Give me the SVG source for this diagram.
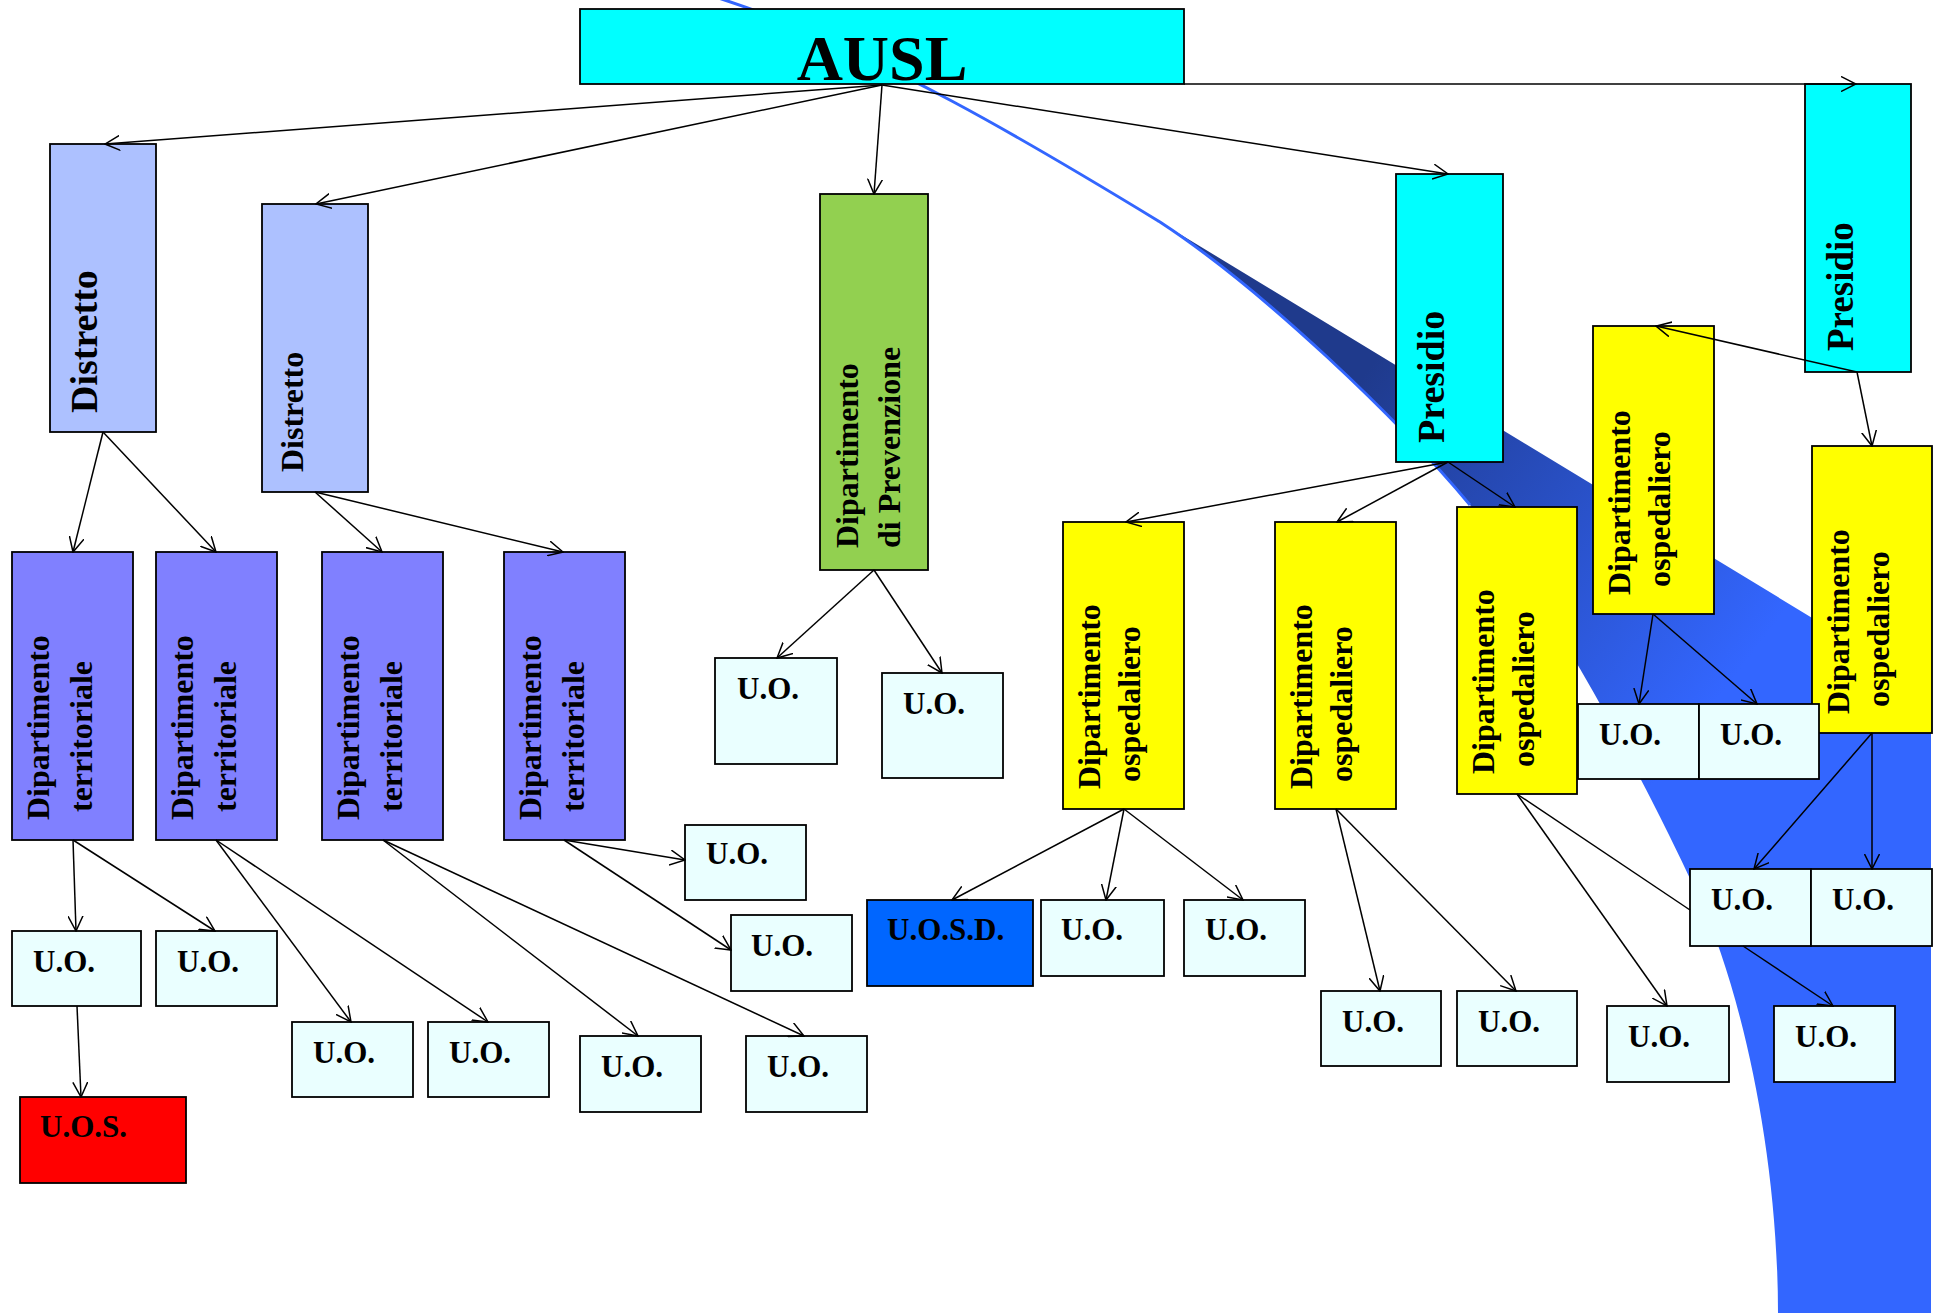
<svg xmlns="http://www.w3.org/2000/svg" width="1936" height="1313" viewBox="0 0 1936 1313">
<defs>
<style>
.b{stroke:#000;stroke-width:1.8}
.cy{fill:#00FFFF}.ds{fill:#ADC1FF}.dt{fill:#8080FF}.pv{fill:#92D050}.yo{fill:#FFFF00}.uo{fill:#EAFFFF}.rd{fill:#FF0000}.bl{fill:#0066FF}
text{font-family:"Liberation Serif","Times New Roman",serif;font-weight:bold;fill:#000}
.t32{font-size:32px}.u{font-size:31px}
.c line,.c path{stroke:#000;stroke-width:1.5;fill:none}
.a{marker-end:url(#arr)}
</style>
<marker id="arr" viewBox="0 0 16 16" refX="15" refY="8" markerWidth="16" markerHeight="16" orient="auto" markerUnits="userSpaceOnUse">
<path d="M0,0.5 L15,8 L0,15.5" fill="none" stroke="#000" stroke-width="1.5"/>
</marker>
<linearGradient id="sw" gradientUnits="userSpaceOnUse" x1="1360" y1="380" x2="1740" y2="670">
<stop offset="0" stop-color="#1F3A8C"/>
<stop offset="1" stop-color="#3366FF"/>
</linearGradient>
</defs>
<rect width="1936" height="1313" fill="#fff"/>
<g id="swoosh">
<path d="M1160,222 L1931,690 L1931,1313 L1778,1313 C1778,1150 1740,988 1700,900 C1650,790 1550,601 1470,505 C1400,421 1264,290 1160,222 Z" fill="url(#sw)"/>
<path d="M712,-4 C870,45 1050,155 1160,222 C1264,290 1400,421 1470,505" fill="none" stroke="#3366FF" stroke-width="3"/>
</g>
<g id="ausl"><rect class="b cy" x="580" y="9" width="604" height="75"/><text x="882" y="80" text-anchor="middle" font-size="64">AUSL</text></g>
<g id="distretto1"><rect class="b ds" x="50" y="144" width="106" height="288"/><text transform="translate(97,413) rotate(-90)" font-size="38">Distretto</text></g>
<g id="distretto2"><rect class="b ds" x="262" y="204" width="106" height="288"/><text transform="translate(303,472) rotate(-90)" font-size="32">Distretto</text></g>
<g id="prevenzione"><rect class="b pv" x="820" y="194" width="108" height="376"/><text class="t32" transform="translate(858,548) rotate(-90)">Dipartimento</text><text class="t32" transform="translate(900,548) rotate(-90)">di Prevenzione</text></g>
<g id="presidio1"><rect class="b cy" x="1396" y="174" width="107" height="288"/><text transform="translate(1444,443) rotate(-90)" font-size="38">Presidio</text></g>
<g id="presidio2"><rect class="b cy" x="1805" y="84" width="106" height="288"/><text transform="translate(1853,351) rotate(-90)" font-size="37">Presidio</text></g>
<g id="dterr1"><rect class="b dt" x="12" y="552" width="121" height="288"/><text class="t32" transform="translate(49,820) rotate(-90)">Dipartimento</text><text class="t32" transform="translate(92,812) rotate(-90)">territoriale</text></g>
<g id="dterr2"><rect class="b dt" x="156" y="552" width="121" height="288"/><text class="t32" transform="translate(193,820) rotate(-90)">Dipartimento</text><text class="t32" transform="translate(236,812) rotate(-90)">territoriale</text></g>
<g id="dterr3"><rect class="b dt" x="322" y="552" width="121" height="288"/><text class="t32" transform="translate(359,820) rotate(-90)">Dipartimento</text><text class="t32" transform="translate(402,812) rotate(-90)">territoriale</text></g>
<g id="dterr4"><rect class="b dt" x="504" y="552" width="121" height="288"/><text class="t32" transform="translate(541,820) rotate(-90)">Dipartimento</text><text class="t32" transform="translate(584,812) rotate(-90)">territoriale</text></g>
<g id="dosp1"><rect class="b yo" x="1063" y="522" width="121" height="287"/><text class="t32" transform="translate(1100,789) rotate(-90)">Dipartimento</text><text class="t32" transform="translate(1140,782) rotate(-90)">ospedaliero</text></g>
<g id="dosp2"><rect class="b yo" x="1275" y="522" width="121" height="287"/><text class="t32" transform="translate(1312,789) rotate(-90)">Dipartimento</text><text class="t32" transform="translate(1352,782) rotate(-90)">ospedaliero</text></g>
<g id="dosp3"><rect class="b yo" x="1457" y="507" width="120" height="287"/><text class="t32" transform="translate(1494,774) rotate(-90)">Dipartimento</text><text class="t32" transform="translate(1534,767) rotate(-90)">ospedaliero</text></g>
<g id="dosp4"><rect class="b yo" x="1593" y="326" width="121" height="288"/><text class="t32" transform="translate(1630,595) rotate(-90)">Dipartimento</text><text class="t32" transform="translate(1670,587) rotate(-90)">ospedaliero</text></g>
<g id="dosp5"><rect class="b yo" x="1812" y="446" width="120" height="287"/><text class="t32" transform="translate(1849,714) rotate(-90)">Dipartimento</text><text class="t32" transform="translate(1889,707) rotate(-90)">ospedaliero</text></g>
<g id="uo1"><rect class="b uo" x="12" y="931" width="129" height="75"/><text class="u" x="33" y="972">U.O.</text></g>
<g id="uo2"><rect class="b uo" x="156" y="931" width="121" height="75"/><text class="u" x="177" y="972">U.O.</text></g>
<g id="uos"><rect class="b rd" x="20" y="1097" width="166" height="86"/><text class="u" x="40" y="1137">U.O.S.</text></g>
<g id="uo3"><rect class="b uo" x="292" y="1022" width="121" height="75"/><text class="u" x="313" y="1063">U.O.</text></g>
<g id="uo4"><rect class="b uo" x="428" y="1022" width="121" height="75"/><text class="u" x="449" y="1063">U.O.</text></g>
<g id="uo5"><rect class="b uo" x="580" y="1036" width="121" height="76"/><text class="u" x="601" y="1077">U.O.</text></g>
<g id="uo6"><rect class="b uo" x="746" y="1036" width="121" height="76"/><text class="u" x="767" y="1077">U.O.</text></g>
<g id="uo7"><rect class="b uo" x="685" y="825" width="121" height="75"/><text class="u" x="706" y="864">U.O.</text></g>
<g id="uo8"><rect class="b uo" x="731" y="915" width="121" height="76"/><text class="u" x="751" y="956">U.O.</text></g>
<g id="uo9"><rect class="b uo" x="715" y="658" width="122" height="106"/><text class="u" x="737" y="699">U.O.</text></g>
<g id="uo10"><rect class="b uo" x="882" y="673" width="121" height="105"/><text class="u" x="903" y="714">U.O.</text></g>
<g id="uosd"><rect class="b bl" x="867" y="900" width="166" height="86"/><text class="u" x="887" y="940">U.O.S.D.</text></g>
<g id="uo11"><rect class="b uo" x="1041" y="900" width="123" height="76"/><text class="u" x="1061" y="940">U.O.</text></g>
<g id="uo12"><rect class="b uo" x="1184" y="900" width="121" height="76"/><text class="u" x="1205" y="940">U.O.</text></g>
<g id="uo13"><rect class="b uo" x="1321" y="991" width="120" height="75"/><text class="u" x="1342" y="1032">U.O.</text></g>
<g id="uo14"><rect class="b uo" x="1457" y="991" width="120" height="75"/><text class="u" x="1478" y="1032">U.O.</text></g>
<g id="uo15"><rect class="b uo" x="1607" y="1006" width="122" height="76"/><text class="u" x="1628" y="1047">U.O.</text></g>
<g id="uo16"><rect class="b uo" x="1774" y="1006" width="121" height="76"/><text class="u" x="1795" y="1047">U.O.</text></g>
<g id="uo17"><rect class="b uo" x="1578" y="704" width="121" height="75"/><text class="u" x="1599" y="745">U.O.</text></g>
<g id="uo18"><rect class="b uo" x="1699" y="704" width="120" height="75"/><text class="u" x="1720" y="745">U.O.</text></g>
<g id="uo19"><rect class="b uo" x="1690" y="869" width="121" height="77"/><text class="u" x="1711" y="910">U.O.</text></g>
<g id="uo20"><rect class="b uo" x="1811" y="869" width="121" height="77"/><text class="u" x="1832" y="910">U.O.</text></g>
<g id="connectors" class="c">
<line class="a" x1="882" y1="85" x2="105" y2="144"/>
<line class="a" x1="882" y1="85" x2="316" y2="204"/>
<line class="a" x1="882" y1="85" x2="874" y2="194"/>
<line class="a" x1="882" y1="85" x2="1448" y2="174"/>
<line class="a" x1="1184" y1="84" x2="1856" y2="84"/>
<line class="a" x1="103" y1="432" x2="73" y2="552"/>
<line class="a" x1="103" y1="432" x2="216" y2="552"/>
<line class="a" x1="315" y1="492" x2="382" y2="552"/>
<line class="a" x1="315" y1="492" x2="563" y2="552"/>
<line class="a" x1="73" y1="840" x2="76" y2="931"/>
<line class="a" x1="73" y1="840" x2="215" y2="931"/>
<line class="a" x1="77" y1="1006" x2="81" y2="1097"/>
<line class="a" x1="216" y1="840" x2="351" y2="1022"/>
<line class="a" x1="216" y1="840" x2="488" y2="1022"/>
<line class="a" x1="383" y1="840" x2="638" y2="1036"/>
<line class="a" x1="383" y1="840" x2="804" y2="1036"/>
<line class="a" x1="564" y1="840" x2="685" y2="860"/>
<line class="a" x1="564" y1="840" x2="731" y2="950"/>
<line class="a" x1="874" y1="570" x2="777" y2="658"/>
<line class="a" x1="874" y1="570" x2="942" y2="673"/>
<line class="a" x1="1448" y1="462" x2="1126" y2="522"/>
<line class="a" x1="1448" y1="462" x2="1337" y2="522"/>
<line class="a" x1="1448" y1="462" x2="1515" y2="507"/>
<line class="a" x1="1124" y1="809" x2="952" y2="900"/>
<line class="a" x1="1124" y1="809" x2="1106" y2="900"/>
<line class="a" x1="1124" y1="809" x2="1243" y2="900"/>
<line class="a" x1="1336" y1="809" x2="1380" y2="991"/>
<line class="a" x1="1336" y1="809" x2="1516" y2="991"/>
<line class="a" x1="1517" y1="794" x2="1667" y2="1006"/>
<line x1="1517" y1="794" x2="1690" y2="910"/>
<line class="a" x1="1857" y1="372" x2="1656" y2="326"/>
<line class="a" x1="1857" y1="372" x2="1872" y2="446"/>
<line class="a" x1="1653" y1="614" x2="1639" y2="704"/>
<line class="a" x1="1653" y1="614" x2="1757" y2="704"/>
<line class="a" x1="1872" y1="733" x2="1754" y2="869"/>
<line class="a" x1="1872" y1="733" x2="1872" y2="869"/>
<line class="a" x1="1743" y1="946" x2="1833" y2="1006"/>
</g>
</svg>
